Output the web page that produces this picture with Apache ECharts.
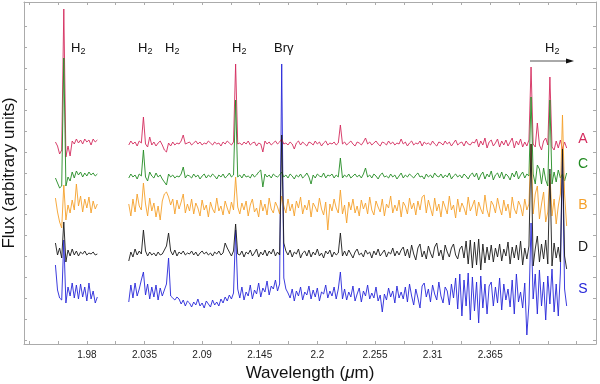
<!DOCTYPE html>
<html>
<head>
<meta charset="utf-8">
<script src="https://cdn.jsdelivr.net/npm/echarts@6.0.0/dist/echarts.min.js"></script>
<style>
  html, body { margin: 0; padding: 0; background: #fff; }
  #chart { width: 600px; height: 384px; }
</style>
</head>
<body>
<div id="chart"></div>
<script>
// wavelength grid (micron) of the two observed pieces
const wl1 = [1.950, 1.952, 1.954, 1.956, 1.958, 1.960, 1.962, 1.964, 1.966, 1.968,
  1.970, 1.972, 1.974, 1.976, 1.978, 1.980, 1.982, 1.984, 1.986, 1.988, 1.990];
const wl2 = [
  2.020, 2.022, 2.024, 2.026, 2.028, 2.030, 2.032, 2.034, 2.036, 2.038,
  2.040, 2.042, 2.044, 2.046, 2.048, 2.050, 2.052, 2.054, 2.056, 2.058,
  2.060, 2.062, 2.064, 2.066, 2.068, 2.070, 2.072, 2.074, 2.076, 2.078,
  2.080, 2.082, 2.084, 2.086, 2.088, 2.090, 2.092, 2.094, 2.096, 2.098,
  2.100, 2.102, 2.104, 2.106, 2.108, 2.110, 2.112, 2.114, 2.116, 2.118,
  2.120, 2.122, 2.124, 2.126, 2.128, 2.130, 2.132, 2.134, 2.136, 2.138,
  2.140, 2.142, 2.144, 2.146, 2.148, 2.150, 2.152, 2.154, 2.156, 2.158,
  2.160, 2.162, 2.164, 2.166, 2.168, 2.170, 2.172, 2.174, 2.176, 2.178,
  2.180, 2.182, 2.184, 2.186, 2.188, 2.190, 2.192, 2.194, 2.196, 2.198,
  2.200, 2.202, 2.204, 2.206, 2.208, 2.210, 2.212, 2.214, 2.216, 2.218,
  2.220, 2.222, 2.224, 2.226, 2.228, 2.230, 2.232, 2.234, 2.236, 2.238,
  2.240, 2.242, 2.244, 2.246, 2.248, 2.250, 2.252, 2.254, 2.256, 2.258,
  2.260, 2.262, 2.264, 2.266, 2.268, 2.270, 2.272, 2.274, 2.276, 2.278,
  2.280, 2.282, 2.284, 2.286, 2.288, 2.290, 2.292, 2.294, 2.296, 2.298,
  2.300, 2.302, 2.304, 2.306, 2.308, 2.310, 2.312, 2.314, 2.316, 2.318,
  2.320, 2.322, 2.324, 2.326, 2.328, 2.330, 2.332, 2.334, 2.336, 2.338,
  2.340, 2.342, 2.344, 2.346, 2.348, 2.350, 2.352, 2.354, 2.356, 2.358,
  2.360, 2.362, 2.364, 2.366, 2.368, 2.370, 2.372, 2.374, 2.376, 2.378,
  2.380, 2.382, 2.384, 2.386, 2.388, 2.390, 2.392, 2.394, 2.396, 2.398,
  2.400, 2.402, 2.404, 2.406, 2.408, 2.410, 2.412, 2.414, 2.416, 2.418,
  2.420, 2.422, 2.424, 2.426, 2.428, 2.430, 2.432, 2.434, 2.436, 2.438];

// offset flux, arbitrary units (1st piece / 2nd piece)
const fluxA1 = [202, 198, 190, 194, 335, 187, 198, 188, 203, 200, 205, 201, 204, 200, 205, 202, 204, 199, 205, 202, 204];
const fluxA2 = [
  199, 203, 200, 202, 198, 203, 201, 227, 200, 197,
  207, 199, 202, 198, 201, 203, 199, 194, 192, 201,
  198, 202, 199, 201, 200, 203, 209, 200, 201, 202,
  199, 201, 203, 200, 202, 199, 201, 200, 203, 201,
  199, 202, 200, 201, 198, 202, 200, 203, 201, 199,
  202, 280, 200, 201, 199, 202, 200, 203, 199, 201,
  202, 198, 201, 200, 192, 203, 200, 202, 199, 201,
  203, 200, 202, 205, 200, 201, 199, 202, 200, 195,
  201, 203, 199, 202, 200, 198, 202, 201, 199, 203,
  200, 202, 198, 201, 203, 199, 201, 200, 202, 199,
  201, 219, 200, 202, 199, 201, 203, 200, 198, 202,
  201, 199, 202, 206, 200, 202, 199, 201, 203, 200,
  198, 202, 201, 199, 203, 200, 202, 199, 201, 200,
  205, 200, 202, 198, 201, 203, 199, 201, 200, 203,
  198, 202, 200, 201, 199, 203, 200, 198, 202, 201,
  199, 203, 200, 202, 198, 201, 204, 199, 201, 202,
  198, 203, 200, 199, 202, 201, 205, 197, 203, 199,
  206, 196, 202, 204, 198, 201, 205, 197, 203, 199,
  204, 198, 202, 206, 196, 203, 199, 205, 197, 202,
  198, 204, 277, 200, 197, 221, 199, 194, 203, 206,
  199, 267, 197, 194, 203, 196, 204, 195, 202, 196];

const fluxC1 = [166, 161, 156, 158, 286, 158, 167, 163, 172, 166, 173, 169, 172, 167, 171, 168, 172, 169, 171, 168, 170];
const fluxC2 = [
  166, 170, 167, 169, 165, 170, 168, 194, 167, 163,
  172, 168, 166, 171, 167, 169, 165, 162, 159, 170,
  167, 169, 166, 168, 167, 170, 177, 166, 169, 168,
  166, 170, 167, 169, 165, 168, 170, 166, 169, 167,
  170, 168, 165, 169, 167, 170, 166, 168, 171, 167,
  169, 244, 167, 169, 166, 170, 167, 168, 166, 170,
  167, 169, 172, 174, 157, 170, 167, 169, 166, 170,
  168, 167, 169, 172, 167, 169, 166, 170, 168, 165,
  169, 167, 170, 166, 168, 171, 167, 160, 169, 166,
  170, 168, 167, 171, 166, 169, 168, 170, 166, 169,
  167, 186, 166, 169, 167, 170, 166, 168, 170, 167,
  169, 166, 170, 176, 167, 169, 166, 170, 168, 165,
  169, 171, 167, 168, 166, 170, 167, 169, 165, 168,
  171, 166, 169, 167, 170, 168, 166, 169, 171, 167,
  168, 165, 170, 167, 169, 166, 171, 168, 167, 170,
  166, 169, 167, 171, 165, 168, 170, 167, 169, 166,
  170, 168, 165, 169, 171, 167, 171, 164, 169, 172,
  165, 170, 167, 173, 164, 169, 171, 166, 172, 165,
  170, 168, 164, 171, 167, 173, 165, 169, 172, 166,
  170, 168, 247, 170, 160, 179, 175, 160, 176, 164,
  158, 244, 160, 172, 162, 174, 166, 170, 163, 171];

const fluxB1 = [146, 132, 122, 116, 159, 124, 139, 131, 144, 134, 160, 138, 148, 132, 145, 136, 147, 131, 143, 135, 140];
const fluxB2 = [
  140, 128, 145, 132, 150, 138, 134, 161, 140, 128,
  146, 133, 141, 127, 138, 124, 143, 150, 152, 147,
  139, 145, 130, 144, 135, 142, 150, 131, 140, 133,
  145, 130, 141, 136, 128, 144, 134, 139, 127, 142,
  135, 131, 146, 133, 138, 129, 143, 136, 130, 142,
  134, 167, 137, 130, 141, 134, 143, 128, 139, 145,
  132, 136, 127, 144, 133, 140, 129, 146, 135, 131,
  142, 137, 130, 148, 138, 131, 145, 133, 140, 128,
  143, 136, 147, 130, 139, 134, 144, 127, 141, 137,
  132, 146, 135, 129, 142, 114, 140, 133, 145, 136,
  131, 154, 130, 139, 121, 142, 134, 145, 131, 138,
  128, 144, 135, 141, 130, 147, 134, 129, 143, 137,
  132, 145, 128, 140, 136, 148, 131, 139, 133, 144,
  127, 142, 138, 130, 146, 135, 141, 129, 143, 134,
  147, 149, 131, 144, 136, 128, 146, 133, 140, 127,
  143, 137, 130, 148, 134, 139, 126, 145, 132, 141,
  136, 129, 147, 133, 138, 144, 128, 142, 135, 130,
  149, 134, 127, 143, 139, 131, 146, 136, 129, 144,
  133, 140, 126, 147, 135, 130, 143, 138, 128, 145,
  134, 140, 200, 130, 150, 158, 125, 140, 152, 122,
  132, 170, 128, 145, 120, 138, 150, 229, 150, 118];

const fluxD1 = [101, 89, 96, 86, 122, 82, 94, 88, 95, 89, 93, 88, 92, 90, 93, 89, 91, 90, 92, 89, 90];
const fluxD2 = [
  83, 92, 87, 95, 89, 93, 90, 114, 93, 88,
  92, 89, 91, 88, 92, 89, 90, 94, 98, 111,
  93, 89, 94, 88, 92, 90, 93, 89, 91, 90,
  93, 89, 92, 88, 91, 93, 90, 92, 89, 91,
  88, 92, 90, 93, 89, 91, 101, 96, 92, 88,
  93, 120, 90, 89, 93, 87, 92, 90, 94, 88,
  91, 95, 87, 92, 89, 94, 88, 93, 90, 95,
  88, 92, 89, 209, 101, 93, 89, 94, 87, 92,
  90, 95, 86, 91, 93, 88, 94, 87, 92, 89,
  95, 88, 91, 86, 93, 90, 94, 87, 92, 89,
  91, 111, 88, 93, 88, 94, 90, 86, 92, 95,
  89, 91, 87, 94, 90, 92, 86, 93, 89, 95,
  88, 91, 94, 87, 92, 90, 96, 88, 93, 89,
  94, 97, 88, 95, 86, 99, 90, 84, 96, 100,
  87, 93, 85, 98, 91, 86, 97, 101, 88, 94,
  84, 99, 92, 87, 96, 100, 89, 85, 95, 98,
  86, 103, 80, 104, 76, 102, 79, 105, 74, 100,
  81, 97, 84, 99, 82, 96, 87, 100, 83, 95,
  88, 102, 80, 97, 86, 99, 84, 103, 79, 96,
  85, 98, 200, 78, 95, 108, 82, 100, 85, 104,
  80, 175, 78, 101, 86, 97, 82, 195, 88, 75];

const fluxS1 = [79, 54, 46, 44, 104, 41, 57, 48, 61, 46, 59, 45, 60, 47, 57, 43, 61, 45, 53, 41, 47];
const fluxS2 = [
  42, 59, 46, 61, 48, 55, 64, 72, 49, 60,
  45, 57, 47, 59, 44, 56, 48, 54, 60, 86,
  48, 46, 44, 47, 45, 40, 44, 38, 43, 41,
  37, 42, 39, 45, 38, 41, 36, 43, 40, 37,
  44, 39, 42, 38, 45, 41, 47, 43, 49, 45,
  51, 114, 55, 46, 57, 44, 52, 48, 59, 45,
  54, 50, 61, 47, 56, 52, 63, 49, 58, 55,
  64, 53, 60, 280, 66, 55, 51, 46, 55, 43,
  53, 48, 57, 44, 52, 49, 58, 45, 54, 47,
  56, 43, 52, 50, 59, 46, 53, 48, 57, 45,
  55, 72, 45, 55, 44, 52, 47, 58, 43, 50,
  56, 42, 53, 48, 59, 45, 51, 46, 57, 43,
  49, 32, 50, 44, 56, 47, 53, 41, 58, 46,
  52, 45, 57, 42, 60, 48, 39, 55, 46, 36,
  58, 61, 47, 55, 42, 59, 50, 44, 62, 48,
  41, 57, 53, 39, 60, 46, 66, 35, 70, 28,
  64, 38, 71, 24, 67, 33, 62, 21, 68, 36,
  60, 30, 58, 62, 38, 57, 41, 66, 34, 60,
  44, 55, 37, 64, 30, 70, 42, 52, 36, 61,
  9, 40, 121, 45, 70, 30, 74, 38, 62, 24,
  68, 40, 75, 32, 60, 28, 71, 190, 55, 38];

// axis ticks
const xTicks = [1.925, 1.9525, 1.98, 2.0075, 2.035, 2.0625, 2.09, 2.1175, 2.145, 2.1725,
  2.2, 2.2275, 2.255, 2.2825, 2.31, 2.3375, 2.365, 2.3925, 2.42, 2.4475];
const xLabels = [1.98, 2.035, 2.09, 2.145, 2.2, 2.255, 2.31, 2.365];
const yTicks = [4, 25, 46, 67, 88, 109, 130, 150, 171, 192, 213, 234, 255, 276, 297, 318];

const font = '"Liberation Sans", Arial, Helvetica, sans-serif';
const axisGray = '#ababab';

// drawn back to front
const spectra = [
  { name: 'S', color: '#2626d9', a: fluxS1, b: fluxS2 },
  { name: 'A', color: '#d42a5c', a: fluxA1, b: fluxA2 },
  { name: 'C', color: '#228b22', a: fluxC1, b: fluxC2 },
  { name: 'B', color: '#f5a02a', a: fluxB1, b: fluxB2 },
  { name: 'D', color: '#1a1a1a', a: fluxD1, b: fluxD2 }
];

function joinPieces(p1, p2) {
  const out = wl1.map((w, i) => [w, p1[i]]);
  out.push([2.005, '-']);
  wl2.forEach((w, i) => out.push([w, p2[i]]));
  return out;
}

const chart = echarts.init(document.getElementById('chart'));

const tick = { show: true, inside: true, length: 3, lineStyle: { color: axisGray, width: 1 } };
const line = { show: true, onZero: false, lineStyle: { color: axisGray, width: 1 } };

function txt(x, y, s, size, color, align) {
  return {
    type: 'text', x: x, y: y, silent: true,
    style: {
      text: s, fontSize: size, fontFamily: font, fill: color,
      align: align || 'left', textAlign: align || 'left',
      verticalAlign: 'middle', textVerticalAlign: 'middle'
    }
  };
}
// "H" with a subscript "2"
function h2(x, y) {
  return [txt(x, y, 'H', 13, '#111'), txt(x + 9.6, y + 4, '2', 9, '#111')];
}

const graphics = [].concat(
  h2(71, 48), h2(138, 48), h2(165, 48), h2(232, 48), h2(545, 48),
  [txt(274, 48, 'Brγ', 13, '#111')],
  [
    { type: 'line', silent: true, shape: { x1: 530, y1: 61, x2: 568, y2: 61 }, style: { stroke: '#555', lineWidth: 1 } },
    { type: 'polygon', silent: true, shape: { points: [[566, 58.5], [574, 61], [566, 63.5]] }, style: { fill: '#111' } }
  ],
  [
    txt(583, 139, 'A', 14, '#d42a5c', 'center'),
    txt(583, 164, 'C', 14, '#228b22', 'center'),
    txt(583, 205, 'B', 14, '#f5a02a', 'center'),
    txt(583, 247, 'D', 14, '#1a1a1a', 'center'),
    txt(583, 289, 'S', 14, '#2626d9', 'center')
  ]
);

chart.setOption({
  animation: false,
  grid: { left: 24, right: 4, top: 2, bottom: 40, containLabel: false, outerBoundsMode: 'none' },
  xAxis: [
    {
      type: 'value', min: 1.92, max: 2.466, position: 'bottom',
      axisLine: line,
      axisTick: Object.assign({ customValues: xTicks }, tick),
      axisLabel: {
        customValues: xLabels,
        formatter: v => String(+(+v).toFixed(3)),
        fontSize: 10, fontFamily: font, color: '#222', margin: 6
      },
      splitLine: { show: false },
      name: 'Wavelength ({i|μ}m)', nameLocation: 'middle', nameGap: 19,
      nameTextStyle: {
        fontSize: 17, fontFamily: font, color: '#111',
        rich: { i: { fontSize: 17, fontFamily: font, fontStyle: 'italic', color: '#111' } }
      }
    },
    {
      type: 'value', min: 1.92, max: 2.466, position: 'top',
      axisLine: line,
      axisTick: Object.assign({ customValues: xTicks }, tick),
      axisLabel: { show: false },
      splitLine: { show: false }
    }
  ],
  yAxis: [
    {
      type: 'value', min: 0, max: 342, position: 'left',
      axisLine: line,
      axisTick: Object.assign({ customValues: yTicks }, tick),
      axisLabel: { show: false },
      splitLine: { show: false },
      name: 'Flux (arbitrary units)', nameLocation: 'middle', nameGap: 6,
      nameTextStyle: { fontSize: 17, fontFamily: font, color: '#111' }
    },
    {
      type: 'value', min: 0, max: 342, position: 'right',
      axisLine: line,
      axisTick: Object.assign({ customValues: yTicks }, tick),
      axisLabel: { show: false },
      splitLine: { show: false }
    }
  ],
  series: spectra.map(s => ({
    name: s.name,
    type: 'line',
    xAxisIndex: 0,
    yAxisIndex: 0,
    data: joinPieces(s.a, s.b),
    showSymbol: false,
    symbol: 'none',
    connectNulls: false,
    lineStyle: { color: s.color, width: 0.9 },
    emphasis: { disabled: true }
  })),
  graphic: graphics
});
</script>
</body>
</html>
